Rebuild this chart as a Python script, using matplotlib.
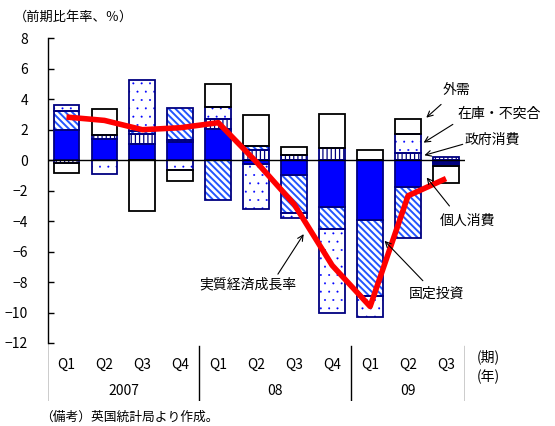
import matplotlib
matplotlib.use('Agg')
import matplotlib.pyplot as plt
import numpy as np

plt.rcParams['font.family'] = ['Noto Sans CJK JP', 'DejaVu Sans']
plt.rcParams['hatch.linewidth'] = 0.9

# data (contributions, % annualized q/q)
quarters = ['Q1', 'Q2', 'Q3', 'Q4', 'Q1', 'Q2', 'Q3', 'Q4', 'Q1', 'Q2', 'Q3']
years = ['2007', '08', '09']
year_span = [4, 4, 3]

consumption = [1.99, 1.42, 1.05, 1.20, 2.08, -0.22, -0.96, -3.04, -3.91, -1.75, -0.10]
government = [-0.15, 0.26, 0.66, 0.11, 0.66, 0.66, 0.37, 0.81, 0.05, 0.50, 0.20]
investment = [1.25, 0.00, 0.22, 2.14, -2.64, 0.31, -2.53, -1.49, -4.98, -3.38, -0.15]
inventory = [0.37, -0.87, 3.37, -0.61, 0.79, -3.00, -0.33, -5.51, -1.42, 1.25, -0.10]
net_export = [-0.66, 1.70, -3.30, -0.72, 1.51, 1.99, 0.52, 2.26, 0.60, 0.98, -1.15]
gdp = [2.84, 2.62, 2.01, 2.14, 2.47, -0.1, -2.89, -6.9, -9.6, -2.33, -1.2]

W, H = 555, 426
fig = plt.figure(figsize=(W / 100, H / 100), dpi=100)

# main plot area (pixel layout)
x0, x1 = 47.5, 465
y_top, y_bot = 38.5, 343
ax = fig.add_axes([x0 / W, 1 - y_bot / H, (x1 - x0) / W, (y_bot - y_top) / H])

x = np.arange(len(quarters))
bw = 0.68
navy = '#000080'

# (values, face, hatch, hatch colour, hatch width, outline)
series = [
    (consumption, '#0000FF', None, '#0000FF', 0.9, navy),
    (government, 'white', '||||', navy, 0.9, navy),
    (investment, 'white', '\\\\\\\\\\', '#2255FF', 1.4, navy),
    (inventory, 'white', '..', '#0000FF', 0.2, navy),
    (net_export, 'white', None, 'black', 0.9, 'black'),
]

pos = np.zeros(len(x))
neg = np.zeros(len(x))
for vals, face, hatch, hcol, hlw, ecol in series:
    v = np.array(vals)
    bottom = np.where(v >= 0, pos, neg)
    with plt.rc_context({'hatch.linewidth': hlw}):
        bars = ax.bar(x, v, bw, bottom=bottom, color=face, hatch=hatch,
                      edgecolor=hcol, linewidth=0, zorder=2)
    for b in bars:
        if hasattr(b, 'set_hatch_linewidth'):
            b.set_hatch_linewidth(hlw)
    ax.bar(x, v, bw, bottom=bottom, fill=False, edgecolor=ecol,
           linewidth=1.3, zorder=2.5)
    pos = np.where(v >= 0, pos + v, pos)
    neg = np.where(v < 0, neg + v, neg)

ax.axhline(0, color='black', lw=1.0, zorder=3)
ax.plot(x, gdp, color='#FF0000', lw=4.0, zorder=4, solid_capstyle='butt')

ax.set_xlim(-0.5, len(x) - 0.5)
ax.set_ylim(-12, 8)
ax.set_yticks(np.arange(-12, 9, 2))
ax.set_xticks([])
for s in ['top', 'right', 'bottom']:
    ax.spines[s].set_visible(False)
ax.spines['left'].set_linewidth(1.0)
ax.tick_params(axis='y', direction='in', length=4, width=1.0, pad=14, labelsize=10)

# annotations
arrow = dict(arrowstyle='->', color='black', lw=0.8, shrinkA=0, shrinkB=0, mutation_scale=10)
notes = [
    ('外需', (10.28, 4.59), (9.87, 3.67), (9.48, 2.80)),
    ('在庫・不突合', (11.41, 3.02), (10.18, 2.36), (9.41, 1.16)),
    ('政府消費', (11.22, 1.31), (10.44, 1.05), (9.43, 0.33)),
    ('個人消費', (10.57, -4.0), (10.09, -3.0), (9.49, -1.13)),
    ('固定投資', (9.75, -8.79), (9.39, -7.91), (8.38, -5.29)),
    ('実質経済成長率', (4.78, -8.13), (5.57, -7.48), (6.25, -4.85)),
]
for label, tpos, tail, head in notes:
    ax.annotate('', xy=head, xytext=tail, arrowprops=arrow, annotation_clip=False, zorder=5)
    ax.text(tpos[0], tpos[1], label, ha='center', va='center', fontsize=10, clip_on=False)

# category table below the plot
tb_top, tb_bot = 343, 401
tax = fig.add_axes([x0 / W, 1 - tb_bot / H, (x1 - x0) / W, (tb_bot - tb_top) / H])
tax.set_xlim(-0.5, len(x) - 0.5)
tax.set_ylim(0, 1)
tax.axis('off')
tax.plot([-0.5, -0.5], [0, 1], color='black', lw=1.0)
edge = -0.5
for yr, n in zip(years, year_span):
    tax.text(edge + n / 2, 0.17, yr, ha='center', va='center', fontsize=10)
    edge += n
    tax.plot([edge, edge], [0, 0.95], color='black', lw=1.0)
for i, q in enumerate(quarters):
    tax.text(i, 0.63, q, ha='center', va='center', fontsize=10)
tax.text(11.12, 0.77, '(期)', ha='center', va='center', fontsize=10, clip_on=False)
tax.text(11.12, 0.42, '(年)', ha='center', va='center', fontsize=10, clip_on=False)

fig.text(14 / W, 1 - 17.5 / H, '（前期比年率、％）', ha='left', va='center', fontsize=9.5)
fig.text(40 / W, 1 - 417 / H, '（備考）英国統計局より作成。', ha='left', va='center', fontsize=9.2)

fig.savefig('out.png', dpi=100)
